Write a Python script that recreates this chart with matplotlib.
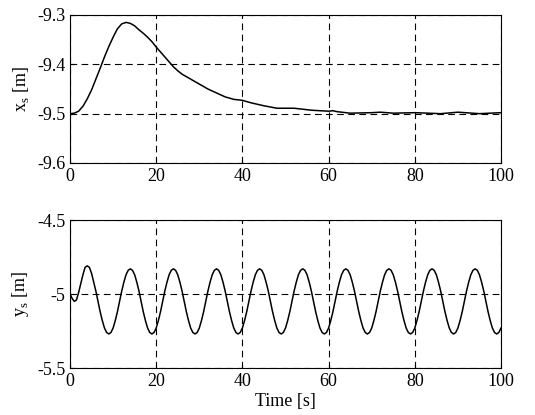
import numpy as np
import matplotlib
matplotlib.use("Agg")
import matplotlib.pyplot as plt

t_x = [0, 1, 2, 3, 4, 5, 6, 7, 8, 9, 10, 11, 12, 13, 14, 15, 16, 17, 18, 19, 20, 22, 24, 25, 26, 28, 30, 32, 34, 36, 38, 40, 42, 45, 48, 52, 56, 60, 61, 62, 65, 70, 72, 75, 80, 86, 90, 95, 100]
xs = [-9.5, -9.499, -9.495, -9.485, -9.47, -9.452, -9.43, -9.408, -9.385, -9.364, -9.345, -9.328, -9.318, -9.315, -9.317, -9.322, -9.33, -9.337, -9.345, -9.354, -9.365, -9.385, -9.405, -9.413, -9.42, -9.43, -9.44, -9.45, -9.458, -9.466, -9.471, -9.473, -9.478, -9.484, -9.489, -9.489, -9.493, -9.495, -9.494, -9.496, -9.499, -9.498, -9.497, -9.499, -9.498, -9.5, -9.497, -9.5, -9.498]

t_y = [i * 0.5 for i in range(201)]
ys = [
    -5.00, -5.03, -5.05, -5.04, -4.99, -4.93, -4.87, -4.82, -4.81, -4.82,
    -4.86, -4.92, -4.98, -5.05, -5.12, -5.18, -5.23, -5.26, -5.27,
    -5.26, -5.23, -5.18, -5.12, -5.05, -4.98, -4.92, -4.87, -4.84, -4.83, -4.84, -4.87, -4.92, -4.98, -5.05, -5.12, -5.18, -5.23, -5.26, -5.27,
    -5.26, -5.23, -5.18, -5.12, -5.05, -4.98, -4.92, -4.87, -4.84, -4.83, -4.84, -4.87, -4.92, -4.98, -5.05, -5.12, -5.18, -5.23, -5.26, -5.27,
    -5.26, -5.23, -5.18, -5.12, -5.05, -4.98, -4.92, -4.87, -4.84, -4.83, -4.84, -4.87, -4.92, -4.98, -5.05, -5.12, -5.18, -5.23, -5.26, -5.27,
    -5.26, -5.23, -5.18, -5.12, -5.05, -4.98, -4.92, -4.87, -4.84, -4.83, -4.84, -4.87, -4.92, -4.98, -5.05, -5.12, -5.18, -5.23, -5.26, -5.27,
    -5.26, -5.23, -5.18, -5.12, -5.05, -4.98, -4.92, -4.87, -4.84, -4.83, -4.84, -4.87, -4.92, -4.98, -5.05, -5.12, -5.18, -5.23, -5.26, -5.27,
    -5.26, -5.23, -5.18, -5.12, -5.05, -4.98, -4.92, -4.87, -4.84, -4.83, -4.84, -4.87, -4.92, -4.98, -5.05, -5.12, -5.18, -5.23, -5.26, -5.27,
    -5.26, -5.23, -5.18, -5.12, -5.05, -4.98, -4.92, -4.87, -4.84, -4.83, -4.84, -4.87, -4.92, -4.98, -5.05, -5.12, -5.18, -5.23, -5.26, -5.27,
    -5.26, -5.23, -5.18, -5.12, -5.05, -4.98, -4.92, -4.87, -4.84, -4.83, -4.84, -4.87, -4.92, -4.98, -5.05, -5.12, -5.18, -5.23, -5.26, -5.27,
    -5.26, -5.23, -5.18, -5.12, -5.05, -4.98, -4.92, -4.87, -4.84, -4.83, -4.84, -4.87, -4.92, -4.98, -5.05, -5.12, -5.18, -5.23, -5.26, -5.27,
    -5.26, -5.23,
]
ys = ys[:len(t_y)]
t_y = t_y[:len(ys)]

x_ticks = [0, 20, 40, 60, 80, 100]
top_yticks = [-9.6, -9.5, -9.4, -9.3]
top_ylabels = ["-9.6", "-9.5", "-9.4", "-9.3"]
bot_yticks = [-5.5, -5.0, -4.5]
bot_ylabels = ["-5.5", "-5", "-4.5"]

plt.rcParams['font.family'] = ['Liberation Serif', 'DejaVu Serif']
fig = plt.figure(figsize=(5.35, 4.15), dpi=100)
W, H = 535, 415
ax1 = fig.add_axes([70 / W, 1 - 163 / H, 431 / W, 148 / H])
ax2 = fig.add_axes([70 / W, 1 - 368 / H, 431 / W, 148 / H])

for ax, t, v, yt, yl, lab in [
    (ax1, t_x, xs, top_yticks, top_ylabels, r"x$_\mathregular{s}$ [m]"),
    (ax2, t_y, ys, bot_yticks, bot_ylabels, r"y$_\mathregular{s}$ [m]"),
]:
    ax.plot(t, v, color="black", lw=1.1)
    ax.set_xlim(0, 100)
    ax.set_ylim(yt[0], yt[-1])
    ax.set_xticks(x_ticks)
    ax.set_yticks(yt)
    ax.set_yticklabels(yl)
    ax.grid(True, color="black", linestyle=(0, (6, 4)), lw=0.8)
    ax.tick_params(direction="in", length=3, labelsize=13, colors="black")
    ax.set_ylabel(lab, fontsize=13)
    for s in ax.spines.values():
        s.set_linewidth(0.8)

ax2.set_xlabel("Time [s]", fontsize=13, labelpad=2)
fig.savefig("out.png", dpi=100)
